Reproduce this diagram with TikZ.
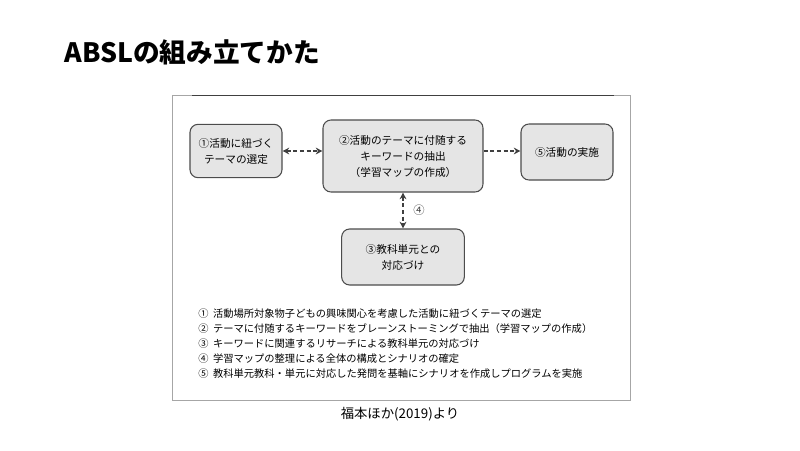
\documentclass[tikz,border=0pt]{standalone}
\usepackage{fontspec}
\setmainfont{Noto Sans CJK JP}
\usetikzlibrary{arrows.meta,positioning}
\tikzset{
  phase/.style={draw=black!70, fill=black!10, rounded corners=6pt, thick, align=center, font=\fontsize{8}{12}\selectfont},
  link/.style={densely dashed, thick, black!75},
  tip/.style={Stealth[length=5pt, width=5pt]},
  item/.style={anchor=west, font=\fontsize{7.7}{9}\selectfont, inner sep=0pt}
}
\begin{document}
\begin{tikzpicture}[x=0.75pt,y=-0.75pt]
    \useasboundingbox (0,0) rectangle (800,450);

    % Title
    \node[anchor=west, font=\bfseries\fontsize{20}{24}\selectfont] (title) at (60,52) {ABSLの組み立てかた};

    % Frame
    \draw[black!35] (172,95) rectangle (630,400);
    \draw[black!75] (192,95) -- (614,95);

    % Steps
    \node[phase, minimum width=69pt, minimum height=40pt] (s1) at (236,151) {①活動に紐づく\\テーマの選定};
    \node[phase, minimum width=120pt, minimum height=54pt] (s2) at (403,156) {②活動のテーマに付随する\\キーワードの抽出\\（学習マップの作成）};
    \node[phase, minimum width=69pt, minimum height=42pt] (s5) at (567,152) {⑤活動の実施};
    \node[phase, minimum width=92pt, minimum height=42pt] (s3) at (403,257) {③教科単元との\\対応づけ};

    % Connectors
    \draw[link, {Stealth[length=5pt, width=5pt]}-{Stealth[length=5pt, width=5pt]}] (s1.east) -- (s1.east -| s2.west);
    \draw[link, -{Stealth[length=5pt, width=5pt]}] (s1.east -| s2.east) -- (s1.east -| s5.west);
    \draw[link, {Stealth[length=5pt, width=5pt]}-{Stealth[length=5pt, width=5pt]}] (s2.south) -- (s3.north) node[midway, right=4pt, font=\fontsize{8.5}{10}\selectfont] (n4) {④};

    % List
    \node[item] (l1) at (198,314) {①\ \ 活動場所対象物子どもの興味関心を考慮した活動に紐づくテーマの選定};
    \node[item] (l2) at (198,329) {②\ \ テーマに付随するキーワードをブレーンストーミングで抽出（学習マップの作成）};
    \node[item] (l3) at (198,344) {③\ \ キーワードに関連するリサーチによる教科単元の対応づけ};
    \node[item] (l4) at (198,359) {④\ \ 学習マップの整理による全体の構成とシナリオの確定};
    \node[item] (l5) at (198,374) {⑤\ \ 教科単元教科・単元に対応した発問を基軸にシナリオを作成しプログラムを実施};

    % Source
    \node[font=\fontsize{10}{12}\selectfont] (src) at (400,414) {福本ほか(2019)より};
\end{tikzpicture}
\end{document}
